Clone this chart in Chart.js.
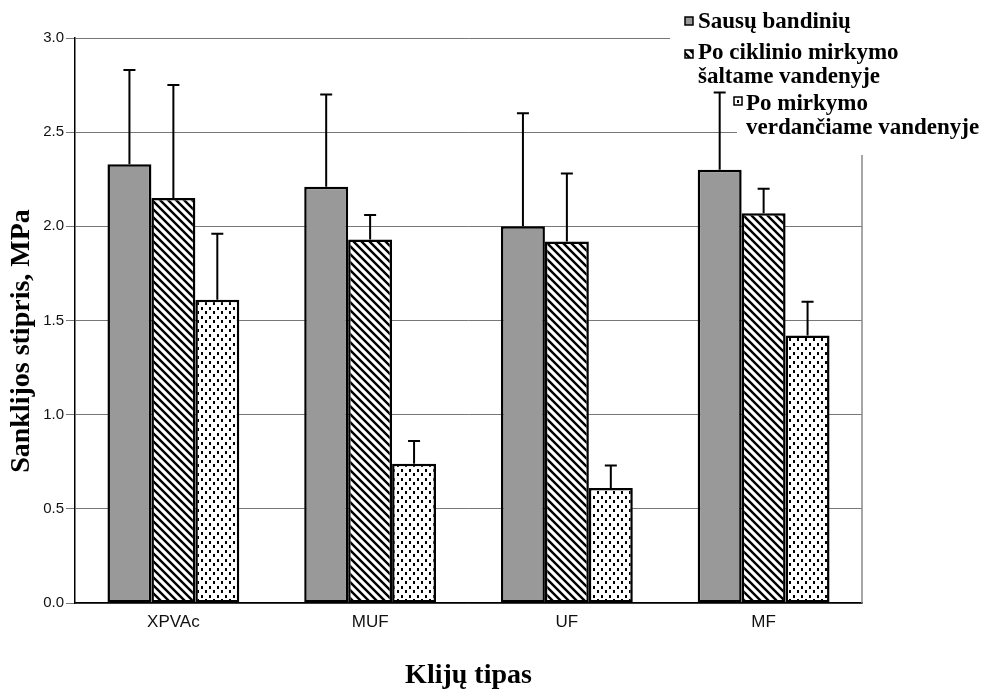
<!DOCTYPE html>
<html>
<head>
<meta charset="utf-8">
<script src="https://cdn.jsdelivr.net/npm/chart.js@4.4.0/dist/chart.umd.min.js"></script>
<style>
  body { margin: 0; background: #fff; }
  #wrap { width: 983px; height: 691px; }
</style>
</head>
<body>
<div id="wrap"><canvas id="myChart" width="983" height="691"></canvas></div>
<script>
// glue types and measured shear strength (MPa)
const categories = ['XPVAc', 'MUF', 'UF', 'MF'];
const seriesNames = ['Sausų bandinių', 'Po ciklinio mirkymo šaltame vandenyje', 'Po mirkymo verdančiame vandenyje'];
const dryValues = [2.33, 2.21, 2.00, 2.30];
const coldValues = [2.15, 1.93, 1.92, 2.07];
const boilValues = [1.61, 0.74, 0.61, 1.42];
// standard deviations (drawn as upper error bars)
const dryErr = [0.50, 0.49, 0.60, 0.41];
const coldErr = [0.60, 0.13, 0.36, 0.13];
const boilErr = [0.35, 0.12, 0.12, 0.18];
const yTicks = [0, 0.5, 1, 1.5, 2, 2.5, 3];
const yTitle = 'Sanklijos stipris, MPa';

function hatchPattern() {
  const c = document.createElement('canvas');
  c.width = 8; c.height = 8;
  const g = c.getContext('2d');
  g.fillStyle = '#fff';
  g.fillRect(0, 0, 8, 8);
  g.strokeStyle = '#000';
  g.lineWidth = 2.4;
  g.beginPath();
  g.moveTo(-2, -2); g.lineTo(10, 10);
  g.moveTo(-10, -2); g.lineTo(2, 10);
  g.moveTo(6, -2); g.lineTo(18, 10);
  g.stroke();
  return g.createPattern(c, 'repeat');
}

function dotPattern() {
  const c = document.createElement('canvas');
  c.width = 8; c.height = 9;
  const g = c.getContext('2d');
  g.fillStyle = '#fff';
  g.fillRect(0, 0, 8, 9);
  g.fillStyle = '#000';
  g.fillRect(1, 1, 2, 3);
  g.fillRect(5, 5, 2, 3);
  return g.createPattern(c, 'repeat');
}

const fills = ['#999999', hatchPattern(), dotPattern()];
const errors = [dryErr, coldErr, boilErr];

const errorBars = {
  id: 'errorBars',
  afterDatasetsDraw(chart) {
    const ctx = chart.ctx;
    const y = chart.scales.y;
    ctx.save();
    ctx.strokeStyle = '#000';
    ctx.lineWidth = 2;
    chart.data.datasets.forEach((ds, di) => {
      chart.getDatasetMeta(di).data.forEach((bar, i) => {
        const top = y.getPixelForValue(ds.data[i] + errors[di][i]);
        ctx.beginPath();
        ctx.moveTo(bar.x, bar.y);
        ctx.lineTo(bar.x, top);
        ctx.moveTo(bar.x - 6, top);
        ctx.lineTo(bar.x + 6, top);
        ctx.stroke();
      });
    });
    ctx.restore();
  }
};

const frameAndLegend = {
  id: 'frameAndLegend',
  afterDraw(chart) {
    const ctx = chart.ctx;
    const a = chart.chartArea;
    ctx.save();
    // right border of plot
    ctx.strokeStyle = '#888';
    ctx.lineWidth = 1.5;
    ctx.beginPath();
    ctx.moveTo(a.right, a.top);
    ctx.lineTo(a.right, a.bottom);
    ctx.stroke();
    // y axis title, sits a bit below the axis middle
    ctx.fillStyle = '#000';
    ctx.font = 'bold 28px "Liberation Serif", "Times New Roman", serif';
    ctx.textAlign = 'center';
    ctx.textBaseline = 'middle';
    ctx.translate(22, 341);
    ctx.rotate(-Math.PI / 2);
    ctx.fillText(yTitle, 0, 0);
    ctx.setTransform(1, 0, 0, 1, 0, 0);
    // legend background
    ctx.fillStyle = '#fff';
    ctx.fillRect(670, 0, 313, 88);
    ctx.fillRect(737, 88, 246, 67);
    ctx.font = 'bold 23px "Liberation Serif", "Times New Roman", serif';
    ctx.textAlign = 'left';
    ctx.textBaseline = 'alphabetic';
    const items = [
      { box: [685, 17], lines: [['Sausų bandinių', 698, 28]] },
      { box: [685, 50], lines: [['Po ciklinio mirkymo', 698, 59], ['šaltame vandenyje', 698, 83]] },
      { box: [734, 97], lines: [['Po mirkymo', 746, 110], ['verdančiame vandenyje', 746, 134]] }
    ];
    items.forEach((it, k) => {
      ctx.fillStyle = fills[k];
      ctx.fillRect(it.box[0], it.box[1], 8, 8);
      ctx.strokeStyle = '#000';
      ctx.lineWidth = 1.5;
      ctx.strokeRect(it.box[0], it.box[1], 8, 8);
      ctx.fillStyle = '#000';
      it.lines.forEach(l => ctx.fillText(l[0], l[1], l[2]));
    });
    ctx.restore();
  }
};

const ctx = document.getElementById('myChart').getContext('2d');
const myChart = new Chart(ctx, {
  type: 'bar',
  data: {
    labels: categories,
    datasets: [
      { label: seriesNames[0], data: dryValues, backgroundColor: fills[0] },
      { label: seriesNames[1], data: coldValues, backgroundColor: fills[1] },
      { label: seriesNames[2], data: boilValues, backgroundColor: fills[2] }
    ].map(d => Object.assign(d, {
      borderColor: '#000',
      borderWidth: 2.5,
      borderSkipped: false,
      categoryPercentage: 0.67,
      barPercentage: 1
    }))
  },
  options: {
    responsive: false,
    animation: false,
    layout: { padding: { top: 38, right: 121, left: 0, bottom: 0 } },
    plugins: { legend: { display: false }, tooltip: { enabled: false } },
    scales: {
      x: {
        grid: { display: false, drawTicks: false },
        border: { color: '#000', width: 1.5 },
        ticks: { color: '#111', font: { family: '"Liberation Sans", Arial', size: 17 }, padding: 9 },
        title: {
          display: true,
          text: 'Klijų tipas',
          color: '#000',
          font: { family: '"Liberation Serif", "Times New Roman", serif', size: 28, weight: 'bold' },
          padding: { top: 30, bottom: -2 }
        },
        afterFit(scale) { scale.height = 88; }
      },
      y: {
        min: 0,
        max: 3,
        afterBuildTicks(scale) { scale.ticks = yTicks.map(v => ({ value: v })); },
        grid: { color: '#777', lineWidth: 1, tickLength: 9, tickColor: '#777' },
        border: { color: '#000', width: 1.5 },
        ticks: {
          color: '#111',
          padding: 2,
          font: { family: '"Liberation Sans", Arial', size: 15 },
          callback: v => v.toFixed(1)
        },
        afterFit(scale) { scale.width = 75; }
      }
    }
  },
  plugins: [errorBars, frameAndLegend]
});
</script>
</body>
</html>
